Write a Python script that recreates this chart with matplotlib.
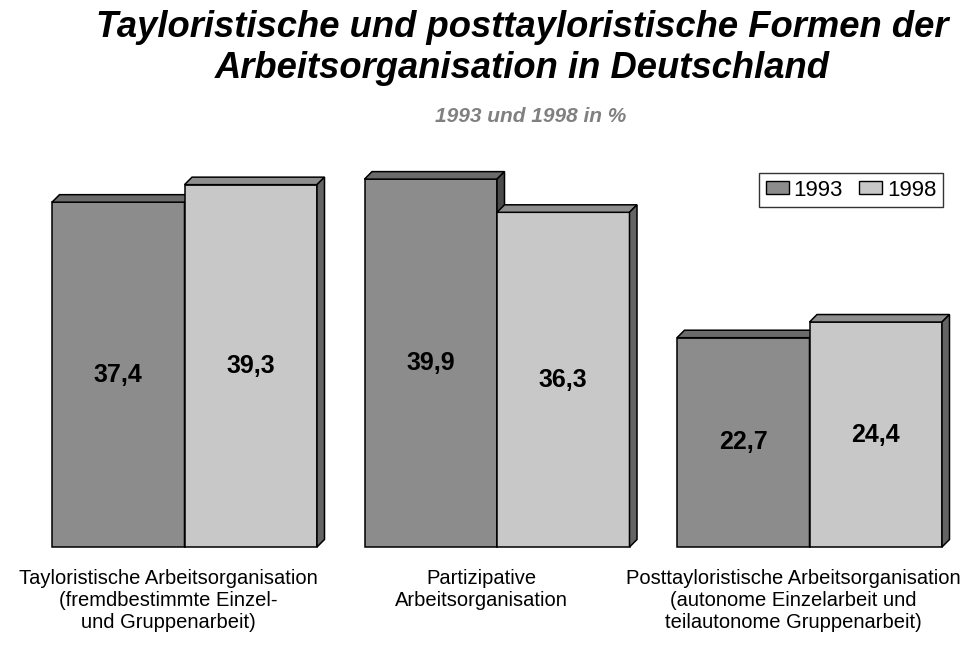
import matplotlib
matplotlib.use("Agg")
import matplotlib.pyplot as plt
from matplotlib.patches import Polygon, Patch

plt.rcParams['font.family'] = ['Liberation Sans', 'DejaVu Sans']

# Data
categories = ["Tayloristische Arbeitsorganisation\n(fremdbestimmte Einzel-\nund Gruppenarbeit)",
              "Partizipative\nArbeitsorganisation",
              "Posttayloristische Arbeitsorganisation\n(autonome Einzelarbeit und\nteilautonome Gruppenarbeit)"]
series_names = ["1993", "1998"]
vals_1993 = [37.4, 39.9, 22.7]
vals_1998 = [39.3, 36.3, 24.4]

# Colours: front, top, side
col_1993 = ("#8c8c8c", "#6b6b6b", "#4b4b4b")
col_1998 = ("#c8c8c8", "#8e8e8e", "#646464")

W, H = 966, 655
f = plt.figure(figsize=(W / 100, H / 100), dpi=100)
ax = f.add_axes([0, 0, 1, 1])
ax.axis('off')

# map pixels -> data: group spacing 312.5 px, 9.22 px per percent, baseline at 547 px
px_x = 312.5
px_y = 9.22
ax.set_xlim(-184.5 / px_x, (W - 184.5) / px_x)
ax.set_ylim(-(H - 547) / px_y, 547 / px_y)

w = 132.5 / px_x
dx = 7.5 / px_x
dy = 7.5 / px_y
lw = 1.1


def bar3d(x0, h, cols):
    front, top, side = cols
    ax.add_patch(Polygon([(x0, 0), (x0 + w, 0), (x0 + w, h), (x0, h)],
                         facecolor=front, edgecolor='black', lw=lw, joinstyle='miter'))
    ax.add_patch(Polygon([(x0, h), (x0 + dx, h + dy), (x0 + w + dx, h + dy), (x0 + w, h)],
                         facecolor=top, edgecolor='black', lw=lw, joinstyle='miter'))
    ax.add_patch(Polygon([(x0 + w, 0), (x0 + w + dx, dy), (x0 + w + dx, h + dy), (x0 + w, h)],
                         facecolor=side, edgecolor='black', lw=lw, joinstyle='miter'))
    ax.text(x0 + w / 2, h / 2, "{0:.1f}".format(h).replace('.', ','),
            ha='center', va='center', fontsize=18, fontweight='bold')


# category labels sit a little left of the bar groups
lab_shift = -16 / px_x
for i in range(len(categories)):
    bar3d(i - w, vals_1993[i], col_1993)
    bar3d(i, vals_1998[i], col_1998)
    for j, line in enumerate(categories[i].split("\n")):
        ax.text(i + lab_shift, -(578 - 547 + 22 * j) / px_y, line,
                ha='center', va='center', fontsize=14.5)

# Legend
handles = [Patch(facecolor=col_1993[0], edgecolor='black', lw=1),
           Patch(facecolor=col_1998[0], edgecolor='black', lw=1)]
leg = ax.legend(handles, series_names, loc='upper right', ncol=2,
                bbox_to_anchor=(943 / W, 1 - 173 / H), bbox_transform=f.transFigure,
                fontsize=16, frameon=True, fancybox=False, shadow=False,
                handlelength=1.04, handleheight=0.54, handletextpad=0.22,
                columnspacing=0.72, borderpad=0.3, borderaxespad=0)
leg.get_frame().set_edgecolor('black')
leg.get_frame().set_linewidth(1.0)

# Titles
f.text(522 / W, 1 - 27.5 / H, "Tayloristische und posttayloristische Formen der",
       ha='center', va='center', fontsize=26.2, fontweight='bold', style='italic')
f.text(522 / W, 1 - 68.5 / H, "Arbeitsorganisation in Deutschland",
       ha='center', va='center', fontsize=26.2, fontweight='bold', style='italic')
f.text(531 / W, 1 - 117 / H, "1993 und 1998 in %",
       ha='center', va='center', fontsize=15, fontweight='bold', style='italic', color='#808080')

plt.savefig("out.png", dpi=100)
plt.close(f)
